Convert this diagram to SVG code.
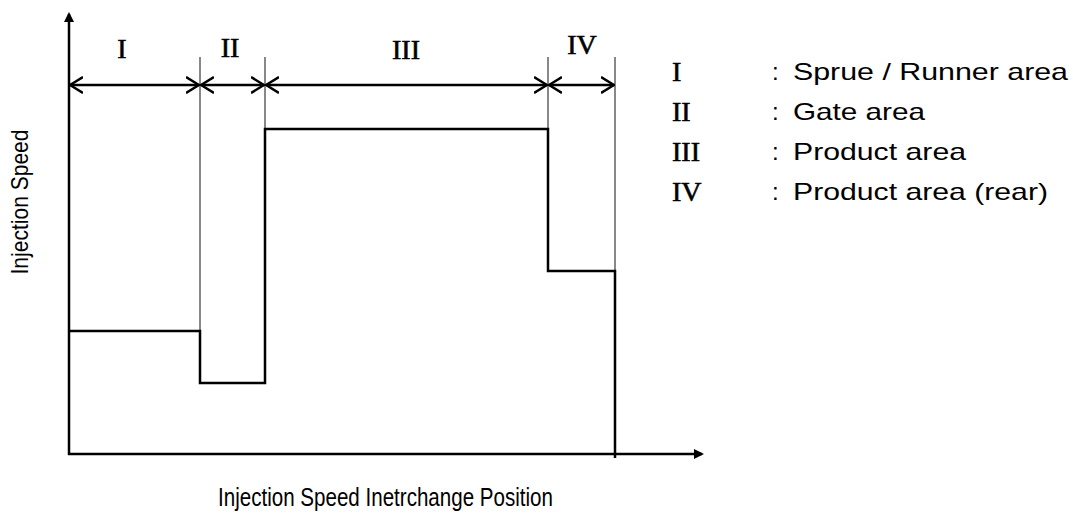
<svg xmlns="http://www.w3.org/2000/svg" width="1073" height="514" viewBox="0 0 1073 514">
<style>
.ax{stroke:#000;stroke-width:2.5;fill:none}
.grid{stroke:#888;stroke-width:2;fill:none}
.step{stroke:#000;stroke-width:2.5;fill:none}
.dim{stroke:#000;stroke-width:2.5;fill:none}
.rn{font-family:"Liberation Serif",serif;font-size:28px;fill:#000;stroke:#000;stroke-width:0.6}
.lt{font-family:"Liberation Sans",Arial,sans-serif;font-size:24px;fill:#000}
.xl{font-family:"Liberation Sans",Arial,sans-serif;font-size:26px;fill:#000}
</style>
<defs>
<marker id="solid" markerWidth="10" markerHeight="10" refX="8" refY="5" orient="auto" markerUnits="userSpaceOnUse">
<path d="M0,0 L10,5 L0,10 z" fill="#000"/>
</marker>
<marker id="open" markerWidth="14" markerHeight="18" refX="13" refY="9" orient="auto-start-reverse" markerUnits="userSpaceOnUse">
<path d="M0,1 L13,9 L0,17" fill="none" stroke="#000" stroke-width="2.5"/>
</marker>
</defs>
<rect width="1073" height="514" fill="#fff"/>
<g id="grid-lines">
<line class="grid" x1="200" y1="57" x2="200" y2="331"/>
<line class="grid" x1="265" y1="57" x2="265" y2="129"/>
<line class="grid" x1="548" y1="57" x2="548" y2="129"/>
<line class="grid" x1="615" y1="57" x2="615" y2="271"/>
</g>
<g id="axes">
<line class="ax" x1="69" y1="455" x2="69" y2="14" marker-end="url(#solid)"/>
<line class="ax" x1="68" y1="454" x2="702" y2="454" marker-end="url(#solid)"/>
</g>
<g id="speed-profile">
<path class="step" d="M68,331 H200 V383 H265 V129 H548 V271 H615 V458"/>
</g>
<g id="connectors">
<line class="dim" x1="70" y1="85" x2="199" y2="85" marker-start="url(#open)" marker-end="url(#open)"/>
<line class="dim" x1="201" y1="85" x2="264" y2="85" marker-start="url(#open)" marker-end="url(#open)"/>
<line class="dim" x1="266" y1="85" x2="547" y2="85" marker-start="url(#open)" marker-end="url(#open)"/>
<line class="dim" x1="549" y1="85" x2="614" y2="85" marker-start="url(#open)" marker-end="url(#open)"/>
</g>
<g id="region-labels">
<text class="rn" x="122" y="58" text-anchor="middle">I</text>
<text class="rn" x="230" y="57" text-anchor="middle">II</text>
<text class="rn" x="406" y="59" text-anchor="middle">III</text>
<text class="rn" x="582" y="54" text-anchor="middle">IV</text>
</g>
<g id="legend">
<text class="rn" x="672" y="81">I</text>
<text class="lt" x="772" y="80">:</text>
<text class="lt" x="793" y="80" textLength="275" lengthAdjust="spacingAndGlyphs">Sprue / Runner area</text>
<text class="rn" x="672" y="121">II</text>
<text class="lt" x="772" y="120">:</text>
<text class="lt" x="793" y="120" textLength="132" lengthAdjust="spacingAndGlyphs">Gate area</text>
<text class="rn" x="672" y="161">III</text>
<text class="lt" x="772" y="160">:</text>
<text class="lt" x="793" y="160" textLength="173" lengthAdjust="spacingAndGlyphs">Product area</text>
<text class="rn" x="672" y="201">IV</text>
<text class="lt" x="772" y="200">:</text>
<text class="lt" x="793" y="200" textLength="255" lengthAdjust="spacingAndGlyphs">Product area (rear)</text>
</g>
<g id="axis-labels">
<text class="xl" x="218" y="506" textLength="335" lengthAdjust="spacingAndGlyphs">Injection Speed Inetrchange Position</text>
<text class="lt" transform="translate(28,202) rotate(-90)" text-anchor="middle" textLength="145" lengthAdjust="spacingAndGlyphs">Injection Speed</text>
</g>
</svg>
